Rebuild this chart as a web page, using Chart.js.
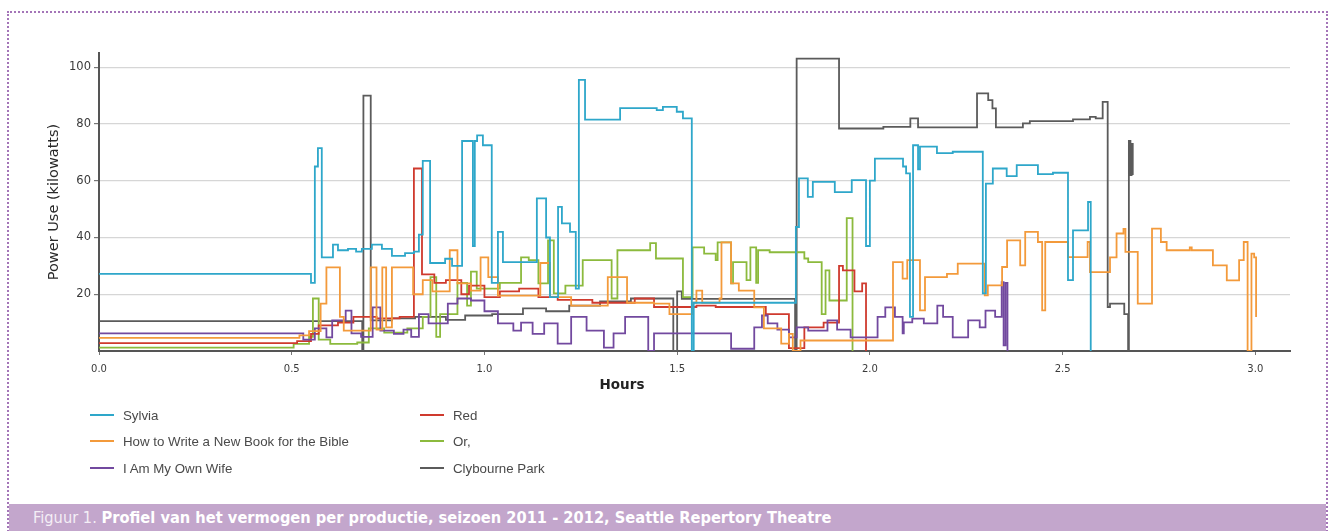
<!DOCTYPE html>
<html>
<head>
<meta charset="utf-8">
<script src="https://cdn.jsdelivr.net/npm/chart.js@4.4.1/dist/chart.umd.min.js"></script>
<style>
  html, body { margin: 0; padding: 0; background: #fff; }
  body { width: 1332px; height: 531px; position: relative; overflow: hidden; font-family: "DejaVu Sans", Verdana, sans-serif; }
  #frame { position: absolute; left: 7px; top: 11px; width: 1317px; height: 530px;
           border-top: 2px dotted #a475b8; border-left: 2px dotted #a475b8; border-right: 2px dotted #a475b8; }
  #chart { position: absolute; left: 0; top: 0; }
  #xtitle { position: absolute; left: 522px; width: 200px; top: 376px; text-align: center;
            font-family: "DejaVu Sans", Verdana, sans-serif; font-weight: bold; font-size: 13.5px; color: #222; }
  #legend { position: absolute; left: 0; top: 0; width: 1332px; height: 500px; pointer-events: none; }
  .item { position: absolute; height: 16px; display: flex; align-items: center;
          font-family: "Liberation Sans", Arial, sans-serif; font-size: 13.3px; color: #4a4a4a; white-space: nowrap; }
  .swatch { width: 24px; height: 2px; margin-right: 9px; }
  #caption { position: absolute; left: 9px; top: 504px; width: 1317px; height: 27px; background: #c3a6cc;
             color: #fff; font-family: "Liberation Sans Narrow", "DejaVu Sans Condensed", sans-serif; font-size: 16.3px;
             line-height: 27px; padding-left: 24px; box-sizing: border-box; white-space: nowrap; }
  #caption .lab { font-weight: normal; color: #f4eef6; }
  #caption .txt { font-weight: bold; }
</style>
</head>
<body>
<div id="frame"></div>
<canvas id="chart" width="1332" height="400"></canvas>
<div id="xtitle">Hours</div>
<div id="legend"></div>
<div id="caption"><span class="lab">Figuur 1. </span><span class="txt">Profiel van het vermogen per productie, seizoen 2011 - 2012, Seattle Repertory Theatre</span></div>

<script>
// Power profiles per production: time since start (hours) and load (kW).
// Each series is a step profile; a value holds until the next time stamp.

const seriesNames = ["Sylvia", "How to Write a New Book for the Bible", "I Am My Own Wife", "Red", "Or,", "Clybourne Park"];

const sylviaHours = [0, 0.550, 0.560, 0.568, 0.578, 0.607, 0.620, 0.646, 0.667, 0.682, 0.708, 0.734, 0.760, 0.794, 0.817, 0.830, 0.840, 0.859, 0.898, 0.916, 0.942, 0.970, 0.975, 0.981, 0.996, 1.019, 1.035, 1.048, 1.136, 1.160, 1.170, 1.191, 1.201, 1.222, 1.237, 1.245, 1.261, 1.352, 1.447, 1.463, 1.499, 1.515, 1.538, 1.543, 1.808, 1.816, 1.839, 1.852, 1.909, 1.953, 1.990, 2.000, 2.013, 2.086, 2.094, 2.104, 2.112, 2.125, 2.130, 2.174, 2.215, 2.293, 2.301, 2.319, 2.355, 2.381, 2.436, 2.475, 2.514, 2.527, 2.566, 2.573];
const sylviaKw = [27.2, 24, 65, 71.5, 33, 37.5, 35.5, 36, 35, 36, 37.5, 36, 33.5, 34.5, 35, 41, 67, 31, 32.5, 30, 74, 37, 74, 76, 72.5, 24, 42, 31.3, 53.8, 40, 19, 50.8, 45, 42, 22, 95.5, 81.5, 85.6, 84.9, 86, 84.3, 82, 0, 17, 43.7, 60.8, 54.3, 59.6, 56, 60.2, 37, 60, 67.8, 65, 62.6, 12, 72.5, 64, 72, 69.7, 70.2, 20.3, 59, 64.3, 61.6, 65.5, 62.3, 62.8, 25, 42.5, 52.5, 0];

const bibleHours = [0, 0.52, 0.545, 0.575, 0.59, 0.625, 0.635, 0.705, 0.72, 0.735, 0.745, 0.76, 0.815, 0.84, 0.865, 0.91, 0.93, 0.965, 0.99, 1.01, 1.035, 1.145, 1.17, 1.225, 1.32, 1.37, 1.44, 1.48, 1.54, 1.55, 1.565, 1.61, 1.615, 1.64, 1.66, 1.70, 1.725, 1.77, 1.79, 1.80, 1.82, 2.06, 2.085, 2.097, 2.13, 2.143, 2.2, 2.228, 2.298, 2.306, 2.343, 2.356, 2.39, 2.403, 2.436, 2.447, 2.455, 2.514, 2.565, 2.571, 2.623, 2.64, 2.658, 2.663, 2.695, 2.732, 2.755, 2.77, 2.83, 2.835, 2.89, 2.926, 2.958, 2.97, 2.98, 2.99, 2.997, 3.002];
const bibleKw = [4.6, 5.5, 7, 16.7, 29.5, 12, 7.2, 29.5, 7.5, 29.5, 8.3, 29.5, 20, 25, 21, 35.5, 23.8, 21.3, 33, 26, 19.5, 31, 19, 16, 26, 17, 16.7, 13, 17, 21.3, 17, 18.5, 38.3, 23.8, 21.3, 15.4, 8, 2.6, 6, 0, 3.7, 31.3, 25.5, 32, 14.3, 26, 27.2, 30.8, 19.6, 23.1, 29.6, 39, 30.2, 42, 38.4, 14.3, 38.4, 33.1, 38.4, 27.8, 33, 41.4, 43, 34.9, 16.7, 43.1, 38.4, 35.5, 36.5, 35.5, 30.2, 24.9, 32, 38.4, 0, 34.3, 33, 12];

const wifeHours = [0, 0.53, 0.56, 0.59, 0.605, 0.64, 0.655, 0.68, 0.71, 0.73, 0.765, 0.79, 0.81, 0.83, 0.855, 0.905, 0.93, 0.965, 1.0, 1.035, 1.075, 1.095, 1.125, 1.155, 1.19, 1.225, 1.265, 1.31, 1.335, 1.365, 1.425, 1.44, 1.64, 1.70, 1.72, 1.735, 1.76, 1.79, 1.81, 1.84, 1.89, 1.915, 1.95, 2.02, 2.04, 2.065, 2.085, 2.088, 2.11, 2.14, 2.175, 2.19, 2.215, 2.255, 2.285, 2.30, 2.325, 2.342, 2.347, 2.352, 2.357];
const wifeKw = [6.2, 4, 8, 4.8, 10.8, 14.2, 6.2, 5, 15.4, 7.2, 6, 7.5, 5, 13, 9.7, 16.7, 18.5, 17.8, 14, 9.7, 7.2, 10, 6, 9.7, 2.6, 12, 7.2, 1.2, 6.2, 12, 0, 6.2, 0.8, 8.3, 12.5, 9.7, 7.5, 4.8, 8.3, 7.2, 10.8, 7.5, 4.8, 12, 15.4, 12, 6.2, 10.1, 11.4, 9.7, 16, 12, 4.8, 10.8, 8.3, 14.2, 12, 24.3, 2, 24, 0];

const redHours = [0, 0.514, 0.55, 0.57, 0.62, 0.66, 0.72, 0.78, 0.817, 0.838, 0.870, 0.90, 0.94, 0.96, 1.0, 1.04, 1.09, 1.14, 1.19, 1.28, 1.39, 1.44, 1.55, 1.60, 1.73, 1.79, 1.83, 1.88, 1.92, 1.93, 1.96, 1.98, 1.99];
const redKw = [2.8, 3.5, 6, 9, 10, 12, 11.5, 12, 64.3, 27, 24, 25, 20, 23, 19, 21, 22, 19, 18, 17, 18.5, 15.5, 16, 15.5, 13, 1, 8.3, 10, 30, 28.4, 21, 23.8, 0];

const orHours = [0, 0.505, 0.545, 0.555, 0.570, 0.60, 0.67, 0.70, 0.74, 0.80, 0.84, 0.86, 0.875, 0.885, 0.93, 0.955, 0.965, 0.98, 1.04, 1.095, 1.115, 1.14, 1.165, 1.18, 1.21, 1.255, 1.33, 1.345, 1.43, 1.445, 1.515, 1.54, 1.57, 1.60, 1.605, 1.64, 1.645, 1.68, 1.69, 1.705, 1.71, 1.74, 1.83, 1.84, 1.875, 1.885, 1.895, 1.94, 1.955];
const orKw = [1.2, 2.5, 5, 18.5, 4, 2.5, 3, 8, 6.5, 8, 12, 26, 5, 13, 24, 16, 28, 22, 24, 33, 32, 23.8, 39, 20.3, 23, 32, 18.5, 35.5, 38, 32.6, 19, 36.5, 34.3, 32, 38.3, 23.8, 31.3, 25, 36.5, 24, 35.5, 34.8, 32.6, 31.3, 13, 28.4, 17.8, 46.8, 0];

const clybourneHours = [0, 0.683, 0.686, 0.705, 0.76, 0.82, 0.90, 0.95, 1.02, 1.10, 1.16, 1.22, 1.30, 1.38, 1.49, 1.50, 1.512, 1.806, 1.81, 1.92, 2.035, 2.105, 2.125, 2.278, 2.307, 2.318, 2.327, 2.397, 2.415, 2.527, 2.571, 2.586, 2.604, 2.617, 2.623, 2.660, 2.670, 2.672, 2.676, 2.679, 2.682];
const clybourneKw = [10.5, 0, 90, 10.8, 11.5, 12, 11, 12.5, 13, 15, 14, 16, 17.5, 18.5, 0, 21, 18.4, 0, 103, 78.4, 79, 82, 78.8, 90.8, 88.4, 85.5, 78.8, 80.2, 81, 81.6, 82.5, 82, 87.8, 15.5, 16.7, 13, 0, 74, 62, 73, 62];

const xTickValues = [0, 0.5, 1.0, 1.5, 2.0, 2.5, 3.0];
const yTickValues = [20, 40, 60, 80, 100];

// line colours, in the order of seriesNames
const seriesColors = ["#2ea7ca", "#f39a3b", "#72499f", "#cf3a2e", "#8cba3d", "#5b5b5b"];

const seriesData = [
  [sylviaHours, sylviaKw],
  [bibleHours, bibleKw],
  [wifeHours, wifeKw],
  [redHours, redKw],
  [orHours, orKw],
  [clybourneHours, clybourneKw]
];

function toPoints(hours, kw) {
  return hours.map((h, i) => ({ x: h, y: kw[i] }));
}

const datasets = seriesData.map(([h, k], i) => ({
  label: seriesNames[i],
  data: toPoints(h, k),
  borderColor: seriesColors[i],
  backgroundColor: seriesColors[i],
  borderWidth: 1.8,
  pointRadius: 0,
  stepped: true,
  fill: false,
  tension: 0
}));

const sans = "'DejaVu Sans', Verdana, sans-serif";

new Chart(document.getElementById("chart"), {
  type: "line",
  data: { datasets },
  options: {
    responsive: false,
    animation: false,
    events: [],
    layout: { padding: { left: 40, right: 42, top: 53, bottom: 4 } },
    plugins: { legend: { display: false }, tooltip: { enabled: false } },
    scales: {
      x: {
        type: "linear",
        min: 0,
        max: 3.09,
        afterFit: s => { s.height = 45; },
        afterBuildTicks: s => { s.ticks = xTickValues.map(v => ({ value: v })); },
        ticks: { font: { family: sans, size: 10 }, color: "#3a3a3a", padding: 8, maxRotation: 0,
                 callback: v => Number(v).toFixed(1) },
        grid: { drawOnChartArea: false, drawTicks: true, tickLength: 4, tickColor: "#777" },
        border: { color: "#555", width: 2 },
        title: { display: false }
      },
      y: {
        min: 0,
        max: 105,
        afterFit: s => { s.width = 59; },
        afterBuildTicks: s => { s.ticks = yTickValues.map(v => ({ value: v })); },
        ticks: { font: { family: sans, size: 11.5 }, color: "#3a3a3a", padding: 3 },
        grid: { color: "#d6d6d6", lineWidth: 1.2, drawTicks: true, tickLength: 5, tickColor: "#777" },
        border: { color: "#555", width: 2 },
        title: { display: true, text: "Power Use (kilowatts)", color: "#2a2a2a",
                 font: { family: sans, size: 14.5 },
                 padding: { top: 6, bottom: 4 } }
      }
    }
  }
});

// two-column legend below the plot
const legend = document.getElementById("legend");
const legendCols = [90, 420];
const legendRows = [407, 433, 460];
seriesNames.forEach((name, i) => {
  const col = i < 3 ? 0 : 1;
  const idx = i < 3 ? i : i - 3;
  const el = document.createElement("div");
  el.className = "item";
  el.style.left = legendCols[col] + "px";
  el.style.top = legendRows[idx] + "px";
  const sw = document.createElement("span");
  sw.className = "swatch";
  sw.style.background = seriesColors[i];
  const tx = document.createElement("span");
  tx.textContent = name;
  el.appendChild(sw);
  el.appendChild(tx);
  legend.appendChild(el);
});
</script>
</body>
</html>
